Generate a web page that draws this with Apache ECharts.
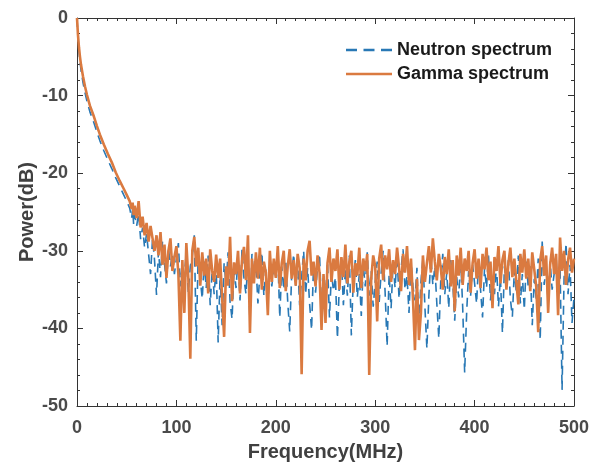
<!DOCTYPE html>
<html>
<head>
<meta charset="utf-8">
<script src="https://cdn.jsdelivr.net/npm/echarts@6/dist/echarts.min.js"></script>
<style>
html,body{margin:0;padding:0;background:#fff;}
#chart{width:590px;height:462px;}
</style>
</head>
<body>
<div id="chart"></div>
<script>
// ---- data ----
const xTicks = [0, 100, 200, 300, 400, 500];
const yTicks = [-50, -40, -30, -20, -10, 0];

// roll-off region (MHz)
const decayFreq = [0, 1, 2, 3, 4, 6, 8, 10, 13, 17, 20, 23, 27, 31, 35, 39, 43, 47, 50, 53, 55, 56, 57, 58];
const gammaDecay = [0, -2.2, -3.8, -5.0, -6.0, -7.5, -8.8, -9.9, -11.3, -12.7, -13.9, -15.0, -16.3, -17.5, -18.6, -19.9, -21.0, -22.0, -22.8, -23.6, -24.6, -23.8, -25.4, -24.2];
const neutronDecay = [0, -2.6, -4.3, -5.6, -6.7, -8.3, -9.6, -10.7, -12.1, -13.5, -14.7, -15.8, -17.1, -18.3, -19.4, -20.6, -21.7, -22.8, -23.6, -24.5, -25.8, -24.6, -26.6, -25.4];

// noise-floor region: 60 MHz to 500 MHz, 2 MHz apart
const floorStart = 60;
const floorStep = 2;
const gammaFloor = [
  -25.8, -23.6, -27.0, -25.6, -28.0, -26.4, -28.8, -26.8, -28.4, -30.0,
  -28.0, -30.6, -27.6, -31.8, -29.2, -33.5, -30.0, -28.4, -32.6, -30.8,
  -29.4, -33.0, -41.6, -31.2, -38.0, -29.0, -33.5, -43.9, -30.0, -28.2,
  -32.0, -29.6, -34.5, -30.2, -33.2, -31.0, -35.5, -29.8, -32.6, -34.0,
  -30.5, -33.5, -31.0, -36.0, -41.1, -32.0, -34.5, -28.2, -36.5, -31.5,
  -33.0, -30.0, -35.5, -31.2, -29.5, -33.8, -28.0, -40.6, -31.0, -34.2,
  -30.2, -33.6, -29.6, -35.0, -31.4, -32.8, -38.3, -30.0, -34.0, -31.0,
  -33.5, -29.4, -34.8, -31.6, -30.0, -35.2, -32.0, -29.8, -33.6, -31.2,
  -34.5, -30.4, -32.2, -45.9, -31.0, -33.8, -30.0, -28.7, -33.2, -31.4,
  -34.6, -30.6, -32.8, -40.2, -33.0, -39.3, -31.6, -29.6, -34.0, -31.0,
  -32.6, -29.8, -35.0, -30.8, -33.4, -29.2, -34.2, -31.4, -30.0, -35.4,
  -31.6, -33.2, -29.6, -34.8, -31.0, -32.6, -30.4, -46.0, -33.6, -30.6,
  -32.0, -39.1, -31.0, -29.2, -33.8, -30.6, -32.4, -29.8, -34.0, -31.2,
  -33.0, -29.6, -32.2, -35.2, -30.4, -32.8, -29.4, -34.4, -31.0, -36.2,
  -42.8, -33.6, -41.5, -38.0, -30.6, -34.0, -31.6, -29.4, -32.8, -28.4,
  -31.4, -33.8, -30.4, -32.2, -35.0, -30.8, -33.0, -29.8, -34.6, -31.2,
  -37.8, -30.6, -33.2, -29.6, -34.4, -31.0, -32.6, -30.0, -35.4, -31.6,
  -29.8, -33.6, -31.0, -34.8, -30.4, -32.4, -29.6, -33.8, -31.4, -37.4,
  -30.8, -32.6, -29.4, -34.2, -31.2, -30.0, -35.0, -31.6, -29.6, -33.4,
  -31.0, -34.0, -36.9, -30.4, -32.8, -29.8, -33.6, -31.0, -35.2, -30.2,
  -32.4, -34.6, -40.5, -31.2, -29.4, -33.2, -30.6, -38.0, -31.8, -29.6,
  -33.0, -30.4, -38.3, -28.3, -32.6, -30.0, -34.4, -31.2, -29.6, -32.8,
  -31.0
];
const neutronFloor = [
  -26.8, -25.2, -28.5, -27.0, -29.6, -27.8, -30.4, -33.0, -28.4, -31.2,
  -35.7, -30.0, -33.4, -28.8, -31.6, -34.2, -29.6, -32.0, -30.4, -33.0,
  -31.0, -29.0, -34.6, -31.8, -33.2, -30.2, -35.4, -32.0, -30.6, -28.0,
  -41.6, -30.0, -33.6, -36.2, -31.4, -34.8, -30.6, -37.0, -32.4, -35.6,
  -32.0, -41.8, -33.0, -39.6, -31.6, -34.4, -30.2, -36.6, -38.8, -32.2,
  -34.8, -31.0, -36.4, -29.8, -33.6, -35.6, -31.2, -39.1, -30.4, -34.0,
  -31.6, -36.8, -33.0, -30.2, -35.8, -32.4, -37.4, -31.0, -34.6, -32.0,
  -33.4, -30.6, -38.6, -32.0, -35.0, -31.2, -36.6, -40.4, -33.0, -30.4,
  -34.6, -31.6, -37.0, -33.4, -30.0, -35.6, -32.2, -36.8, -40.2, -31.6,
  -35.4, -32.0, -30.4, -37.6, -33.0, -36.0, -31.4, -38.6, -32.8, -35.2,
  -33.4, -41.3, -34.0, -31.0, -37.0, -32.4, -35.8, -30.6, -40.9, -33.6,
  -31.2, -36.0, -33.0, -38.4, -31.8, -34.6, -30.2, -35.8, -32.6, -37.2,
  -34.0, -31.4, -36.6, -32.8, -30.0, -35.4, -42.3, -33.0, -37.4, -31.6,
  -34.8, -30.6, -36.2, -32.4, -29.8, -35.0, -33.2, -38.0, -31.4, -34.6,
  -36.4, -32.2, -39.6, -34.0, -31.0, -37.2, -42.6, -35.8, -30.8, -34.4,
  -32.0, -36.8, -41.3, -33.6, -30.4, -35.6, -32.8, -37.4, -31.2, -34.0,
  -39.0, -33.4, -36.0, -31.0, -37.2, -45.7, -38.0, -32.6, -35.8, -31.8,
  -34.2, -36.8, -31.4, -35.0, -38.6, -32.2, -34.8, -30.6, -36.4, -33.0,
  -35.6, -31.8, -37.2, -33.4, -40.6, -32.0, -34.6, -31.2, -36.2, -38.5,
  -32.4, -35.4, -30.6, -36.8, -33.0, -37.6, -31.4, -34.8, -32.0, -39.6,
  -33.6, -36.2, -31.0, -41.5, -28.8, -34.4, -32.0, -36.6, -31.4, -35.0,
  -33.0, -30.6, -36.4, -32.2, -47.9, -33.6, -29.0, -35.6, -31.8, -39.3,
  -36.0
];

// ---- build [x, y] pairs ----
function buildSeries(decay, floor) {
  const pts = decayFreq.map((f, i) => [f, decay[i]]);
  floor.forEach((v, i) => pts.push([floorStart + i * floorStep, v]));
  return pts;
}
const neutronData = buildSeries(neutronDecay, neutronFloor);
const gammaData = buildSeries(gammaDecay, gammaFloor);

const BLUE = '#2878B5';
const ORANGE = '#DA7A40';
const AXIS = '#333333';
const LABEL = '#4a4a4a';
const FONT = 'Liberation Sans, Arial, sans-serif';

function axisCommon(isX, showLabel, pos) {
  return {
    type: 'value',
    position: pos,
    min: isX ? xTicks[0] : yTicks[0],
    max: isX ? xTicks[xTicks.length - 1] : yTicks[yTicks.length - 1],
    interval: isX ? 100 : 10,
    axisLine: { show: true, onZero: false, lineStyle: { color: AXIS, width: 1 } },
    axisTick: { show: true, inside: true, length: 6, lineStyle: { color: AXIS } },
    minorTick: { show: true, splitNumber: isX ? 10 : 5, length: 3, lineStyle: { color: AXIS } },
    splitLine: { show: false },
    minorSplitLine: { show: false },
    axisLabel: {
      show: showLabel,
      color: LABEL,
      fontFamily: FONT,
      fontWeight: 'bold',
      fontSize: 18,
      margin: isX ? 13 : 9
    }
  };
}

const chart = echarts.init(document.getElementById('chart'), null, { renderer: 'canvas' });
const xMain = axisCommon(true, true, 'bottom');
xMain.name = 'Frequency(MHz)';
xMain.nameLocation = 'middle';
xMain.nameGap = 36;
xMain.nameTextStyle = { color: '#404040', fontFamily: FONT, fontWeight: 'bold', fontSize: 20 };
const yMain = axisCommon(false, true, 'left');
yMain.name = 'Power(dB)';
yMain.nameLocation = 'middle';
yMain.nameGap = 40;
yMain.nameMoveOverlap = false;
yMain.nameTextStyle = { color: '#404040', fontFamily: FONT, fontWeight: 'bold', fontSize: 20 };

const dashIcon = 'path://M0,0h11v2.5h-11z M17.5,0h11v2.5h-11z M35,0h11v2.5h-11z';
const solidIcon = 'path://M0,0h46v2.5h-46z';

chart.setOption({
  animation: false,
  backgroundColor: '#ffffff',
  grid: { left: 77, right: 16, top: 18, bottom: 56, containLabel: false, outerBoundsMode: 'none' },
  xAxis: [xMain, axisCommon(true, false, 'top')],
  yAxis: [yMain, axisCommon(false, false, 'right')],
  legend: {
    orient: 'vertical',
    left: 346,
    top: 41,
    padding: 0,
    itemWidth: 46,
    itemHeight: 3,
    itemGap: 6,
    data: [
      { name: 'Neutron spectrum', icon: dashIcon },
      { name: 'Gamma spectrum', icon: solidIcon }
    ],
    textStyle: { color: '#1a1a1a', fontFamily: FONT, fontWeight: 'bold', fontSize: 18 }
  },
  series: [
    {
      name: 'Neutron spectrum',
      type: 'line',
      xAxisIndex: 0,
      yAxisIndex: 0,
      data: neutronData,
      symbol: 'none',
      smooth: false,
      lineStyle: { color: BLUE, width: 1.6, type: [9, 6] },
      itemStyle: { color: BLUE },
      z: 2
    },
    {
      name: 'Gamma spectrum',
      type: 'line',
      xAxisIndex: 0,
      yAxisIndex: 0,
      data: gammaData,
      symbol: 'none',
      smooth: false,
      lineStyle: { color: ORANGE, width: 2.6 },
      itemStyle: { color: ORANGE },
      z: 3
    }
  ]
});
</script>
</body>
</html>
